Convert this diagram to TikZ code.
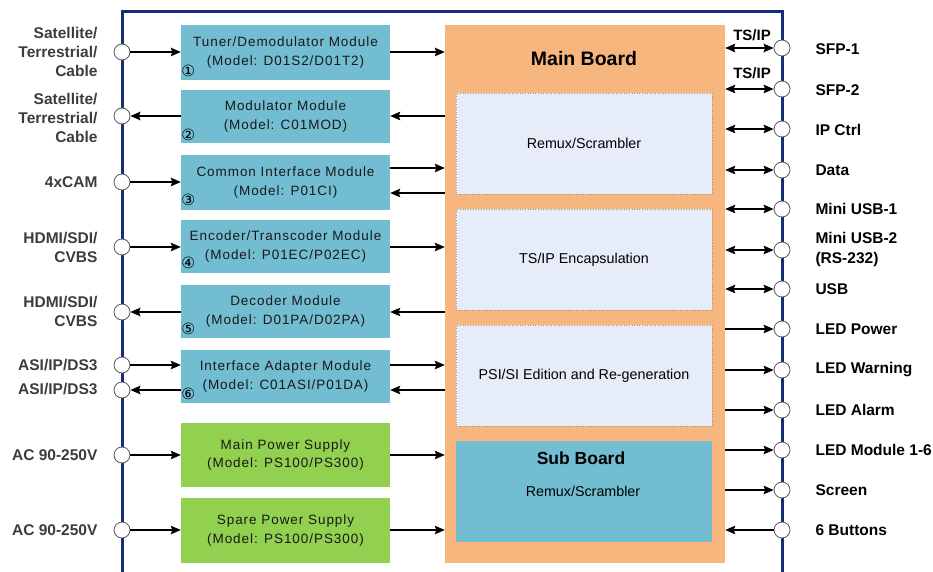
\documentclass[tikz,border=0pt]{standalone}
\usepackage{fontspec}
\setmainfont{Liberation Sans}
\newfontfamily\modfont[LetterSpace=7]{Liberation Sans}
\newfontfamily\symfont{DejaVu Sans}
\usetikzlibrary{arrows.meta,calc}
\definecolor{modblue}{RGB}{114,189,209}
\definecolor{psgreen}{RGB}{146,208,80}
\definecolor{boardorange}{RGB}{247,182,125}
\definecolor{innerfill}{RGB}{230,236,248}
\definecolor{framenavy}{RGB}{22,45,120}
\definecolor{lbgray}{RGB}{60,60,60}
\tikzset{
  modbox/.style={fill=modblue, minimum width=209pt, inner sep=0pt, align=center,
    font=\modfont\fontsize{13.5}{18.5}\selectfont, text=black!90},
  psbox/.style={modbox, fill=psgreen},
  innerbox/.style={fill=innerfill, draw=gray!80, dotted, line width=0.6pt,
    minimum width=256pt, minimum height=101pt, inner sep=0pt,
    font=\fontsize{14.3}{17}\selectfont},
  port/.style={circle, draw=gray!70!black, fill=white, line width=0.8pt,
    minimum size=16pt, inner sep=0pt},
  leftlab/.style={anchor=east, align=right, text=lbgray,
    font=\bfseries\fontsize{15.5}{19}\selectfont},
  rightlab/.style={anchor=west, align=left, text=black,
    font=\bfseries\fontsize{15.5}{20}\selectfont},
  num/.style={font=\symfont\fontsize{15.5}{16}\selectfont, inner sep=0pt},
  conn/.style={line width=1.5pt},
  thinconn/.style={line width=1.1pt},
}
\begin{document}
\begin{tikzpicture}[x=1pt,y=-1pt,>={Stealth[length=10pt,width=8.5pt,inset=1.5pt]}]
\useasboundingbox (0,0) rectangle (933,572);

% frame
\draw[framenavy, line width=3pt] (122,572) -- (122,12) -- (782,12) -- (782,572);

% main board
\node[fill=boardorange, minimum width=280pt, minimum height=538pt, inner sep=0pt] (mb) at (585,294) {};
\node[font=\bfseries\fontsize{19.5}{22}\selectfont] (mbt) at (584,59) {Main Board};
\node[innerbox] (rs) at (584,143.5) {Remux/Scrambler};
\node[innerbox] (tsip) at (584,259.5) {TS/IP Encapsulation};
\node[innerbox] (psi) at (584,375.5) {PSI/SI Edition and Re-generation};
\node[fill=modblue, minimum width=256pt, minimum height=101pt, inner sep=0pt] (sub) at (584,491.5) {};
\node[font=\bfseries\fontsize{17.5}{20}\selectfont] (subt) at (581,458) {Sub Board};
\node[font=\fontsize{14.3}{17}\selectfont] (subr) at (583,491) {Remux/Scrambler};

% modules
\node[modbox, minimum height=55pt] (m1) at (285.5,52.5) {Tuner/Demodulator Module\\(Model: D01S2/D01T2)};
\node[modbox, minimum height=53pt] (m2) at (285.5,116.5) {Modulator Module\\(Model: C01MOD)};
\node[modbox, minimum height=55pt] (m3) at (285.5,182.5) {Common Interface Module\\(Model: P01CI)};
\node[modbox, minimum height=53pt] (m4) at (285.5,246.5) {Encoder/Transcoder Module\\(Model: P01EC/P02EC)};
\node[modbox, minimum height=53pt] (m5) at (285.5,311.5) {Decoder Module\\(Model: D01PA/D02PA)};
\node[modbox, minimum height=53pt] (m6) at (285.5,376.5) {Interface Adapter Module\\(Model: C01ASI/P01DA)};
\node[psbox, minimum height=64pt] (p1) at (285.5,455) {Main Power Supply\\(Model: PS100/PS300)};
\node[psbox, minimum height=65pt] (p2) at (285.5,530.5) {Spare Power Supply\\(Model: PS100/PS300)};

\node[num] (n1) at ($(m1.south west)+(7.5,-9)$) {①};
\node[num] (n2) at ($(m2.south west)+(7.5,-8)$) {②};
\node[num] (n3) at ($(m3.south west)+(7.5,-10)$) {③};
\node[num] (n4) at ($(m4.south west)+(7.5,-10)$) {④};
\node[num] (n5) at ($(m5.south west)+(7.5,-9)$) {⑤};
\node[num] (n6) at ($(m6.south west)+(7.5,-9)$) {⑥};

% left ports
\node[port] (l1) at (122,52) {};
\node[port] (l2) at (122,116) {};
\node[port] (l3) at (122,182) {};
\node[port] (l4) at (122,247) {};
\node[port] (l5) at (122,312) {};
\node[port] (l6a) at (122,365) {};
\node[port] (l6b) at (122,390) {};
\node[port] (l7) at (122,455) {};
\node[port] (l8) at (122,530) {};

\node[leftlab] (t1) at (101,52) {Satellite/\\Terrestrial/\\Cable};
\node[leftlab] (t2) at (101,118) {Satellite/\\Terrestrial/\\Cable};
\node[leftlab] (t3) at (101,182) {4xCAM};
\node[leftlab] (t4) at (101,247) {HDMI/SDI/\\CVBS};
\node[leftlab] (t5) at (101,311) {HDMI/SDI/\\CVBS};
\node[leftlab] (t6a) at (101,365) {ASI/IP/DS3};
\node[leftlab] (t6b) at (101,389) {ASI/IP/DS3};
\node[leftlab] (t7) at (101,455) {AC 90-250V};
\node[leftlab] (t8) at (101,530) {AC 90-250V};

% left connectors
\draw[conn,->] (l1.east) -- (l1 -| m1.west);
\draw[conn,<-] (l2.east) -- (l2 -| m2.west);
\draw[conn,->] (l3.east) -- (l3 -| m3.west);
\draw[conn,->] (l4.east) -- (l4 -| m4.west);
\draw[conn,<-] (l5.east) -- (l5 -| m5.west);
\draw[conn,->] (l6a.east) -- (l6a -| m6.west);
\draw[conn,<-] (l6b.east) -- (l6b -| m6.west);
\draw[thinconn,->] (l7.east) -- (l7 -| p1.west);
\draw[thinconn,->] (l8.east) -- (l8 -| p2.west);

% module to main board
\coordinate (y3a) at (400,168);
\coordinate (y3b) at (400,193);
\draw[conn,->] (m1.east |- l1) -- (mb.west |- l1);
\draw[conn,<-] (m2.east |- l2) -- (mb.west |- l2);
\draw[conn,->] (m3.east |- y3a) -- (mb.west |- y3a);
\draw[conn,<-] (m3.east |- y3b) -- (mb.west |- y3b);
\draw[conn,->] (m4.east |- l4) -- (mb.west |- l4);
\draw[conn,<-] (m5.east |- l5) -- (mb.west |- l5);
\draw[conn,->] (m6.east |- l6a) -- (mb.west |- l6a);
\draw[conn,<-] (m6.east |- l6b) -- (mb.west |- l6b);
\draw[thinconn,->] (p1.east |- l7) -- (mb.west |- l7);
\draw[thinconn,->] (p2.east |- l8) -- (mb.west |- l8);

% right ports
\node[port] (r1) at (782,48) {};
\node[port] (r2) at (782,89) {};
\node[port] (r3) at (782,129) {};
\node[port] (r4) at (782,170) {};
\node[port] (r5) at (782,209) {};
\node[port] (r6) at (782,250) {};
\node[port] (r7) at (782,289) {};
\node[port] (r8) at (782,329) {};
\node[port] (r9) at (782,370) {};
\node[port] (r10) at (782,410) {};
\node[port] (r11) at (782,450) {};
\node[port] (r12) at (782,490) {};
\node[port] (r13) at (782,530) {};

\node[rightlab] (s1) at (812,49) {SFP-1};
\node[rightlab] (s2) at (812,90) {SFP-2};
\node[rightlab] (s3) at (812,130) {IP Ctrl};
\node[rightlab] (s4) at (812,170) {Data};
\node[rightlab] (s5) at (812,209) {Mini USB-1};
\node[rightlab] (s6) at (812,249) {Mini USB-2\\(RS-232)};
\node[rightlab] (s7) at (812,289) {USB};
\node[rightlab] (s8) at (812,329) {LED Power};
\node[rightlab] (s9) at (812,370) {LED Warning};
\node[rightlab] (s10) at (812,410) {LED Alarm};
\node[rightlab] (s11) at (812,450) {LED Module 1-6};
\node[rightlab] (s12) at (812,490) {Screen};
\node[rightlab] (s13) at (812,530) {6 Buttons};

\node[font=\bfseries\fontsize{15}{17}\selectfont] (ts1) at (752,35) {TS/IP};
\node[font=\bfseries\fontsize{15}{17}\selectfont] (ts2) at (752,73) {TS/IP};

% right connectors
\draw[conn,<->] (mb.east |- r1) -- (r1.west);
\draw[conn,<->] (mb.east |- r2) -- (r2.west);
\draw[conn,<->] (mb.east |- r3) -- (r3.west);
\draw[conn,<->] (mb.east |- r4) -- (r4.west);
\draw[conn,<->] (mb.east |- r5) -- (r5.west);
\draw[conn,<->] (mb.east |- r6) -- (r6.west);
\draw[conn,<->] (mb.east |- r7) -- (r7.west);
\draw[conn,->] (mb.east |- r8) -- (r8.west);
\draw[conn,->] (mb.east |- r9) -- (r9.west);
\draw[conn,->] (mb.east |- r10) -- (r10.west);
\draw[conn,->] (mb.east |- r11) -- (r11.west);
\draw[conn,->] (mb.east |- r12) -- (r12.west);
\draw[conn,<-] (mb.east |- r13) -- (r13.west);
\end{tikzpicture}
\end{document}
